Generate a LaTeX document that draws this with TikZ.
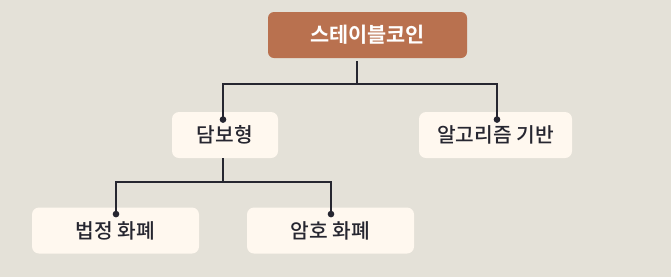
\documentclass[tikz,border=0pt]{standalone}
\usepackage{fontspec}
\usepackage{xcolor}
\usepackage{tikz}
\usetikzlibrary{arrows.meta,positioning}
\newfontfamily\krfont{Noto Sans CJK KR Medium}[BoldFont={Noto Sans CJK KR Bold}]
\definecolor{coinBrown}{HTML}{B9714F}
\definecolor{leafCream}{HTML}{FFF8EF}
\definecolor{paperBg}{HTML}{E4E1D8}
\definecolor{inkDark}{HTML}{262630}

\begin{document}
\begin{tikzpicture}[x=1pt, y=-1pt,
        rootbox/.style={rounded corners=6pt, fill=coinBrown, text=white,
                        minimum height=46pt, minimum width=199pt,
                        font=\krfont\bfseries\fontsize{20.8}{24}\selectfont},
        leaf/.style={rounded corners=7pt, fill=leafCream, text=inkDark,
                     minimum height=46pt,
                     font=\krfont\fontsize{20.3}{24}\selectfont},
        link/.style={-{Circle[length=6.5pt]}, line width=1.6pt, inkDark},
    ]
        \fill[paperBg] (0,0) rectangle (671,277);
        \useasboundingbox (0,0) rectangle (671,277);

        \node[rootbox] (coin) at (367.5,35) {스테이블코인};
        \node[leaf, minimum width=106pt] (collat) at (225,135) {담보형};
        \node[leaf, minimum width=153pt] (algo) at (495.5,135) {알고리즘 기반};
        \node[leaf, minimum width=167pt] (fiat) at (115.5,230.5) {법정 화폐};
        \node[leaf, minimum width=167pt] (crypto) at (330.5,230.5) {암호 화폐};

        \draw[link] ([xshift=-10.5pt,yshift=-3pt]coin.south) |- ++(0,23) -| ([xshift=-2pt,yshift=-11pt]collat.north);
        \draw[link] ([xshift=-10.5pt,yshift=-3pt]coin.south) |- ++(0,23) -| ([xshift=1.5pt,yshift=-11pt]algo.north);
        \draw[link] ([xshift=-2pt]collat.south) -- ++(0,24) -| ([xshift=0.5pt,yshift=-10pt]fiat.north);
        \draw[link] ([xshift=-2pt]collat.south) -- ++(0,24) -| ([xshift=0.5pt,yshift=-10pt]crypto.north);
    \end{tikzpicture}
\end{document}
